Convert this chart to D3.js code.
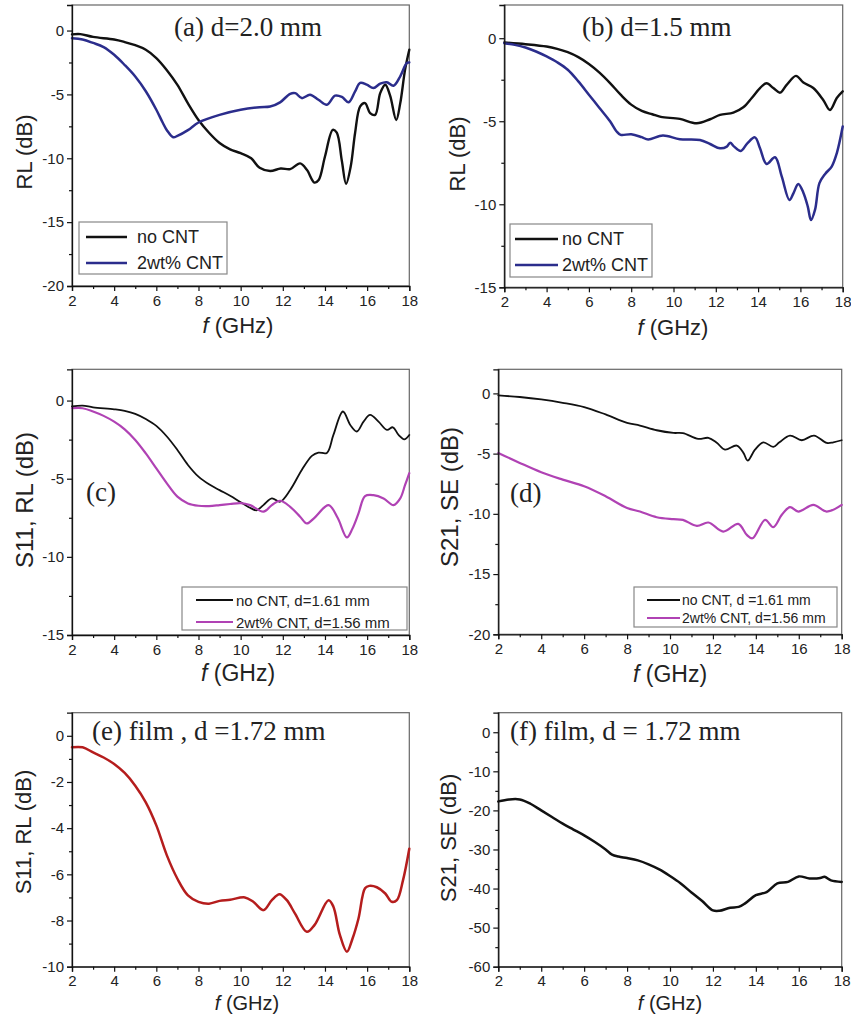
<!DOCTYPE html>
<html><head><meta charset="utf-8">
<script src="https://cdn.jsdelivr.net/npm/d3@7"></script>
<style>body{margin:0;background:#fff}</style>
</head><body>
<svg id="c" width="851" height="1023"></svg>
<script>
// ---------- DATA ----------
const xMajor = [2,4,6,8,10,12,14,16,18];
const xMinor = [3,5,7,9,11,13,15,17];

const a_noCNT = [[2,-0.3],[2.4,-0.28],[3,-0.5],[4,-0.7],[4.5,-0.9],[5,-1.15],[5.5,-1.5],[6,-2.15],[6.5,-3.1],[7,-4.25],[7.5,-5.7],[8,-7.0],[8.5,-8.0],[9,-8.8],[9.5,-9.3],[10,-9.6],[10.5,-10.0],[10.9,-10.75],[11.4,-11.0],[11.9,-10.8],[12.35,-10.85],[12.82,-10.4],[13.14,-10.9],[13.5,-11.9],[13.7,-11.7],[14.0,-9.86],[14.37,-7.77],[14.56,-8.0],[14.8,-10.2],[15.0,-12.0],[15.22,-10.65],[15.43,-8.0],[15.67,-5.94],[15.9,-5.68],[16.14,-6.46],[16.38,-6.6],[16.62,-4.9],[16.86,-4.24],[17.09,-5.1],[17.38,-7.0],[17.57,-5.7],[17.8,-3.06],[18,-1.5]];
const a_2wt = [[2,-0.6],[2.5,-0.7],[3,-0.97],[3.5,-1.3],[4,-1.9],[4.5,-2.7],[5,-3.6],[5.5,-4.75],[6,-6.2],[6.3,-7.2],[6.5,-7.8],[6.8,-8.35],[7,-8.25],[7.5,-7.8],[8,-7.2],[9,-6.6],[10,-6.2],[10.9,-6.0],[11.4,-5.95],[11.87,-5.62],[12.35,-4.95],[12.59,-4.9],[12.9,-5.29],[13.29,-5.03],[13.69,-5.42],[14.09,-5.81],[14.48,-5.1],[14.8,-5.2],[15.12,-5.62],[15.43,-4.76],[15.67,-4.1],[15.98,-4.24],[16.3,-4.5],[16.62,-4.16],[16.93,-4.05],[17.25,-4.32],[17.57,-3.58],[17.88,-2.54],[18,-2.5]];
const b_noCNT = [[2,-0.26],[3,-0.36],[4,-0.5],[4.5,-0.64],[5,-0.84],[5.5,-1.14],[6,-1.55],[6.5,-2.07],[7,-2.7],[7.5,-3.4],[8,-4.0],[8.5,-4.38],[9,-4.58],[9.4,-4.74],[10.3,-4.86],[11.1,-5.12],[11.73,-4.88],[12.2,-4.62],[12.83,-4.48],[13.3,-4.16],[13.7,-3.6],[14.09,-3.0],[14.4,-2.71],[14.72,-3.0],[15.04,-3.28],[15.35,-2.81],[15.79,-2.27],[16.14,-2.67],[16.61,-3.0],[17.08,-3.72],[17.4,-4.32],[17.72,-3.6],[18,-3.2]];
const b_2wt = [[2,-0.3],[2.5,-0.4],[3,-0.56],[3.5,-0.8],[4,-1.1],[4.5,-1.45],[5,-1.9],[5.5,-2.6],[6,-3.4],[6.5,-4.2],[7,-5.0],[7.3,-5.6],[7.5,-5.82],[8,-5.78],[8.5,-5.96],[8.8,-6.1],[9.5,-5.86],[10.3,-6.08],[11.25,-6.13],[11.73,-6.37],[12.2,-6.63],[12.52,-6.53],[12.68,-6.29],[12.87,-6.53],[13.18,-6.79],[13.49,-6.33],[13.85,-5.97],[14.09,-6.63],[14.4,-7.57],[14.8,-7.17],[15.12,-8.34],[15.48,-9.74],[15.67,-9.34],[15.9,-8.78],[16.14,-9.3],[16.35,-10.14],[16.5,-10.95],[16.69,-10.34],[16.9,-8.73],[17.17,-8.17],[17.48,-7.73],[17.72,-6.93],[18,-5.32]];
const c_noCNT = [[2,-0.38],[2.5,-0.32],[3,-0.43],[4,-0.56],[4.5,-0.66],[5,-0.85],[5.5,-1.18],[6,-1.62],[6.5,-2.3],[7,-3.16],[7.5,-4.12],[8,-4.87],[8.5,-5.36],[9,-5.73],[9.5,-6.09],[10,-6.5],[10.5,-6.9],[10.75,-7.02],[11.08,-6.69],[11.48,-6.26],[11.87,-6.47],[12.35,-5.72],[12.9,-4.44],[13.38,-3.54],[13.69,-3.33],[14.09,-3.35],[14.4,-2.2],[14.85,-0.7],[15.2,-1.56],[15.51,-1.98],[15.83,-1.35],[16.14,-0.92],[16.54,-1.35],[16.94,-1.88],[17.22,-1.71],[17.49,-2.2],[17.76,-2.48],[18,-2.2]];
const c_2wt = [[2,-0.49],[2.5,-0.49],[3,-0.7],[3.5,-0.98],[4,-1.35],[4.5,-1.84],[5,-2.52],[5.5,-3.38],[6,-4.34],[6.5,-5.3],[7,-6.15],[7.5,-6.58],[8,-6.73],[8.5,-6.75],[9,-6.69],[9.5,-6.62],[10,-6.56],[10.45,-6.69],[11.08,-7.11],[11.48,-6.69],[11.87,-6.41],[12.35,-6.8],[12.82,-7.43],[13.14,-7.86],[13.5,-7.5],[14.17,-6.69],[14.6,-7.5],[15.04,-8.76],[15.3,-8.2],[15.59,-7.22],[15.9,-6.11],[16.3,-6.05],[16.78,-6.26],[17.25,-6.69],[17.57,-6.26],[17.8,-5.4],[18,-4.65]];
const d_noCNT = [[2,-0.17],[3,-0.3],[4,-0.5],[5,-0.78],[6,-1.14],[7,-1.75],[8,-2.44],[8.6,-2.67],[9.38,-3.06],[10.16,-3.28],[10.6,-3.3],[11.32,-3.78],[11.79,-3.69],[12.18,-4.1],[12.56,-4.67],[13.11,-4.33],[13.42,-4.94],[13.62,-5.58],[13.96,-4.67],[14.35,-4.06],[14.81,-4.44],[15.1,-4.06],[15.59,-3.5],[16.14,-3.89],[16.71,-3.5],[17.3,-4.11],[17.61,-4.06],[18,-3.89]];
const d_2wt = [[2,-4.94],[3,-5.77],[4,-6.55],[5,-7.16],[6,-7.71],[7,-8.54],[8,-9.51],[8.6,-9.81],[9.38,-10.28],[10.16,-10.44],[10.6,-10.5],[11.25,-11.0],[11.79,-10.72],[12.48,-11.47],[13.18,-10.83],[13.58,-11.75],[13.84,-12.03],[14.43,-10.5],[14.81,-11.11],[15.21,-10.08],[15.59,-9.44],[15.98,-9.81],[16.68,-9.25],[17.3,-9.81],[18,-9.25]];
const e_film = [[2,-0.5],[2.5,-0.5],[3,-0.72],[3.5,-0.94],[4,-1.22],[4.5,-1.61],[5,-2.16],[5.5,-2.88],[6,-3.88],[6.5,-5.18],[7,-6.19],[7.5,-6.91],[8,-7.19],[8.5,-7.27],[9,-7.15],[9.5,-7.1],[10.2,-7.0],[10.6,-7.19],[11.08,-7.55],[11.48,-7.12],[11.84,-6.86],[12.19,-7.12],[12.58,-7.7],[13.14,-8.49],[13.5,-8.2],[14.17,-7.12],[14.4,-7.4],[14.7,-8.6],[15.04,-9.35],[15.3,-8.8],[15.59,-7.91],[15.9,-6.6],[16.1,-6.5],[16.46,-6.56],[16.86,-6.83],[17.17,-7.19],[17.41,-7.12],[17.7,-6.26],[18,-4.89]];
const f_film = [[2,-17.7],[2.5,-17.2],[3,-17.2],[3.5,-18.3],[4,-20.0],[4.5,-21.7],[5,-23.4],[5.5,-24.9],[6,-26.4],[6.5,-28.1],[7,-30.0],[7.3,-31.3],[7.6,-31.8],[8,-32.2],[8.5,-32.8],[9,-33.8],[9.5,-35.1],[10,-36.8],[10.5,-38.7],[11,-41.0],[11.5,-43.2],[12,-45.6],[12.3,-45.7],[12.8,-44.9],[13.2,-44.7],[13.5,-43.8],[14,-41.7],[14.5,-40.9],[15,-38.7],[15.5,-38.3],[16,-36.9],[16.5,-37.4],[17,-37.3],[17.2,-37.0],[17.5,-37.9],[18,-38.3]];

const yTicksA = [-20,-15,-10,-5,0], yMinorA = [-17.5,-12.5,-7.5,-2.5];
const yTicksB = [-15,-10,-5,0],     yMinorB = [-12.5,-7.5,-2.5];
const yTicksE = [-10,-8,-6,-4,-2,0], yMinorE = [-9,-7,-5,-3,-1];
const yTicksF = [-60,-50,-40,-30,-20,-10,0], yMinorF = [-55,-45,-35,-25,-15,-5];

const legendAB = ["no CNT", "2wt% CNT"];
const legendC = ["no CNT, d=1.61 mm", "2wt% CNT, d=1.56 mm"];
const legendD = ["no CNT, d =1.61 mm", "2wt% CNT, d=1.56 mm"];

// ---------- STYLE / LAYOUT ----------
const BLUE = "#2b2d8c", MAG = "#b042b4", RED = "#b51d1d", BLK = "#111";
const SANS = "'Liberation Sans', Arial, sans-serif";
const SERIF = "'Liberation Serif', 'Times New Roman', serif";

const panels = [
 {fr:{l:72,r:409.3,t:5,b:286}, yd:[-20,2], yt:yTicksA, ym:yMinorA,
  series:[{d:a_noCNT,c:BLK,w:2.4},{d:a_2wt,c:BLUE,w:2.5}],
  title:{t:"(a) d=2.0 mm",x:174,y:36}, yl:{t:"RL (dB)",x:32,y:152,s:22}, xl:{x:238,y:333,s:22},
  leg:{box:[79,222,148,52], lx:[86,127], tx:137, rows:[237,263], fs:18, w:2.5, labels:legendAB}},
 {fr:{l:504.3,r:842.7,t:5,b:287.3}, yd:[-15,2], yt:yTicksB, ym:yMinorB,
  series:[{d:b_noCNT,c:BLK,w:2.4},{d:b_2wt,c:BLUE,w:2.5}],
  title:{t:"(b) d=1.5 mm",x:582,y:36}, yl:{t:"RL (dB)",x:465,y:154,s:22}, xl:{x:673,y:335,s:22},
  leg:{box:[510,224,142,53], lx:[515,558], tx:562, rows:[239,265], fs:18, w:2.5, labels:legendAB}},
 {fr:{l:72,r:409.3,t:369.3,b:635}, yd:[-15,2], yt:yTicksB, ym:yMinorB,
  series:[{d:c_noCNT,c:BLK,w:1.8},{d:c_2wt,c:MAG,w:2.2}],
  title:{t:"(c)",x:86,y:501}, yl:{t:"S11, RL (dB)",x:33,y:500,s:24}, xl:{x:238,y:681,s:23},
  leg:{box:[182,587,225,43], lx:[196,233], tx:236, rows:[600,622], fs:15, w:1.8, labels:legendC}},
 {fr:{l:498.3,r:841.7,t:369.3,b:634.3}, yd:[-20,2], yt:yTicksA, ym:yMinorA,
  series:[{d:d_noCNT,c:BLK,w:1.8},{d:d_2wt,c:MAG,w:2.2}],
  title:{t:"(d)",x:510,y:502}, yl:{t:"S21, SE (dB)",x:458,y:497,s:24}, xl:{x:670,y:682,s:23},
  leg:{box:[634,587,203,40], lx:[647,680], tx:682, rows:[600,618], fs:14, w:1.8, labels:legendD}},
 {fr:{l:72,r:409.3,t:712.7,b:966.7}, yd:[-10,1], yt:yTicksE, ym:yMinorE,
  series:[{d:e_film,c:RED,w:2.5}],
  title:{t:"(e) film , d =1.72 mm",x:92,y:740}, yl:{t:"S11, RL (dB)",x:31,y:832,s:22}, xl:{x:247,y:1010,s:20}},
 {fr:{l:498.3,r:841.7,t:712.7,b:966.7}, yd:[-60,5], yt:yTicksF, ym:yMinorF,
  series:[{d:f_film,c:BLK,w:2.5}],
  title:{t:"(f) film, d = 1.72 mm",x:510,y:740}, yl:{t:"S21, SE (dB)",x:456,y:838,s:22}, xl:{x:670,y:1010,s:20}}
];

const svg = d3.select("#c");

panels.forEach(p => {
  const x = d3.scaleLinear().domain([2,18]).range([p.fr.l, p.fr.r]);
  const y = d3.scaleLinear().domain(p.yd).range([p.fr.b, p.fr.t]);
  const g = svg.append("g");

  g.append("rect").attr("x",p.fr.l).attr("y",p.fr.t)
   .attr("width",p.fr.r-p.fr.l).attr("height",p.fr.b-p.fr.t)
   .attr("fill","none").attr("stroke","#666").attr("stroke-width",1.2);

  const line = d3.line().x(d=>x(d[0])).y(d=>y(d[1])).curve(d3.curveCatmullRom.alpha(0.5));
  p.series.forEach(s => {
    g.append("path").datum(s.d).attr("d",line)
     .attr("fill","none").attr("stroke",s.c).attr("stroke-width",s.w)
     .attr("stroke-linejoin","round").attr("stroke-linecap","round");
  });

  const fmt = d => String(d);
  const xa = g.append("g").attr("transform",`translate(0,${p.fr.b})`)
    .call(d3.axisBottom(x).tickValues(xMajor).tickFormat(fmt).tickSize(5).tickPadding(4));
  g.append("g").attr("transform",`translate(0,${p.fr.b})`)
    .call(d3.axisBottom(x).tickValues(xMinor).tickFormat("").tickSize(3))
    .call(s=>s.select(".domain").remove());
  const ya = g.append("g").attr("transform",`translate(${p.fr.l},0)`)
    .call(d3.axisLeft(y).tickValues(p.yt).tickFormat(fmt).tickSize(5).tickPadding(3));
  g.append("g").attr("transform",`translate(${p.fr.l},0)`)
    .call(d3.axisLeft(y).tickValues(p.ym).tickFormat("").tickSize(3))
    .call(s=>s.select(".domain").remove());
  g.selectAll(".tick line").attr("stroke","#111").attr("stroke-width",1.2);
  [xa,ya].forEach(a=>{
    a.select(".domain").attr("stroke","#111").attr("stroke-width",1.3);
    a.selectAll("text").attr("font-family",SANS).attr("font-size",15).attr("fill","#222");
  });

  g.append("text").attr("x",p.title.x).attr("y",p.title.y).text(p.title.t)
   .attr("font-family",SERIF).attr("font-size",27).attr("fill","#222");

  g.append("text").attr("transform",`translate(${p.yl.x},${p.yl.y}) rotate(-90)`)
   .attr("text-anchor","middle").attr("font-family",SANS).attr("font-size",p.yl.s)
   .attr("fill","#222").text(p.yl.t);

  const xt = g.append("text").attr("x",p.xl.x).attr("y",p.xl.y).attr("text-anchor","middle")
   .attr("font-family",SANS).attr("font-size",p.xl.s).attr("fill","#222");
  xt.append("tspan").attr("font-style","italic").text("f");
  xt.append("tspan").text(" (GHz)");

  if (p.leg) {
    const L = p.leg;
    g.append("rect").attr("x",L.box[0]).attr("y",L.box[1]).attr("width",L.box[2]).attr("height",L.box[3])
     .attr("fill","#fff").attr("stroke","#888").attr("stroke-width",1.2);
    L.labels.forEach((lab,i) => {
      g.append("line").attr("x1",L.lx[0]).attr("x2",L.lx[1]).attr("y1",L.rows[i]).attr("y2",L.rows[i])
       .attr("stroke",p.series[i].c).attr("stroke-width",L.w);
      g.append("text").attr("x",L.tx).attr("y",L.rows[i]).attr("dominant-baseline","central")
       .attr("font-family",SANS).attr("font-size",L.fs).attr("fill","#222").text(lab);
    });
  }
});
</script>
</body></html>
